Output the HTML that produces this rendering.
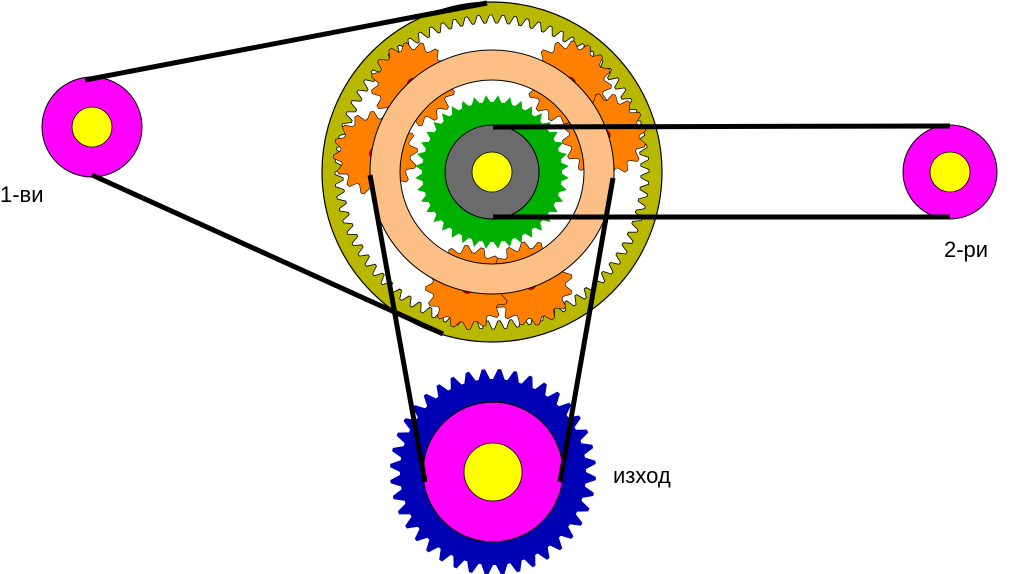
<!DOCTYPE html>
<html><head><meta charset="utf-8"><style>
html,body{margin:0;padding:0;background:#fff;width:1011px;height:574px;overflow:hidden}
text{font-family:"Liberation Sans",sans-serif;font-size:22px;fill:#000}
</style></head><body>
<svg id="s" width="1011" height="574" viewBox="0 0 1011 574" xmlns="http://www.w3.org/2000/svg">
<g id="g"></g>
<text x="0" y="202">1-ви</text>
<text x="944" y="257">2-ри</text>
<text x="613" y="483">изход</text>
</svg>
<script>
function gear(cx,cy,n,r1,r2,off,tr){off=off||0;var p=[];for(var i=0;i<n;i++){var a=(i/n)*2*Math.PI+off,d=2*Math.PI/n;
var pts=tr?[[a,r1],[a+d*0.3,r2],[a+d*0.5,r2],[a+d*0.8,r1]]:[[a,r1],[a+d*0.15,r1],[a+d*0.5,r2],[a+d*0.85,r1]];
pts.forEach(function(q){p.push((cx+q[1]*Math.cos(q[0])).toFixed(1)+","+(cy+q[1]*Math.sin(q[0])).toFixed(1));});}
return p.join(" ");}
var h='';
h+='<circle cx="492" cy="172" r="170" fill="#b8b800" stroke="#000" stroke-width="1.2"/>';
h+='<polygon points="'+gear(492,172,80,157,149,0,true)+'" fill="#fff" stroke="#000" stroke-width="0.8"/>';
var ang=[-132,-49,-18,71,102,189];
ang.forEach(function(a){var r=a*Math.PI/180,x=492+118*Math.cos(r),y=172+118*Math.sin(r);
h+='<polygon points="'+gear(x,y,16,35,42,r,true)+'" fill="#ff8000" stroke="#000" stroke-width="0.6"/>';
h+='<circle cx="'+x+'" cy="'+y+'" r="6" fill="#e00000" stroke="#000" stroke-width="0.5"/>';});
h+='<circle cx="492" cy="172" r="107" fill="none" stroke="#000" stroke-width="31"/>';
h+='<circle cx="492" cy="172" r="107" fill="none" stroke="#fcbf86" stroke-width="29"/>';
h+='<polygon points="'+gear(492,172,40,70,77)+'" fill="#00b000"/>';
h+='<circle cx="492" cy="172" r="47" fill="#6b6b6b" stroke="#000" stroke-width="1"/>';
h+='<circle cx="492" cy="172" r="20" fill="#ffff00" stroke="#000" stroke-width="0.8"/>';
h+='<polygon points="'+gear(493,472,40,93,103,0,true)+'" fill="#0000b4"/>';
h+='<circle cx="493" cy="472" r="70" fill="#ff00ff" stroke="#000" stroke-width="1.2"/>';
h+='<circle cx="493" cy="472" r="29" fill="#ffff00" stroke="#000" stroke-width="0.8"/>';
h+='<circle cx="92" cy="127" r="50" fill="#ff00ff" stroke="#000" stroke-width="1"/>';
h+='<circle cx="92" cy="127" r="20" fill="#ffff00" stroke="#000" stroke-width="0.8"/>';
h+='<circle cx="950" cy="172" r="47" fill="#ff00ff" stroke="#000" stroke-width="1"/>';
h+='<circle cx="950" cy="172" r="20" fill="#ffff00" stroke="#000" stroke-width="0.8"/>';
var L=[[85,80,487,3],[92,175,443,334],[493,127,950,126],[493,217,950,217],[370,175,425,482],[613,178,560,482]];
L.forEach(function(l){h+='<line x1="'+l[0]+'" y1="'+l[1]+'" x2="'+l[2]+'" y2="'+l[3]+'" stroke="#000" stroke-width="5"/>';});
document.getElementById('g').innerHTML=h;
</script>
</body></html>
